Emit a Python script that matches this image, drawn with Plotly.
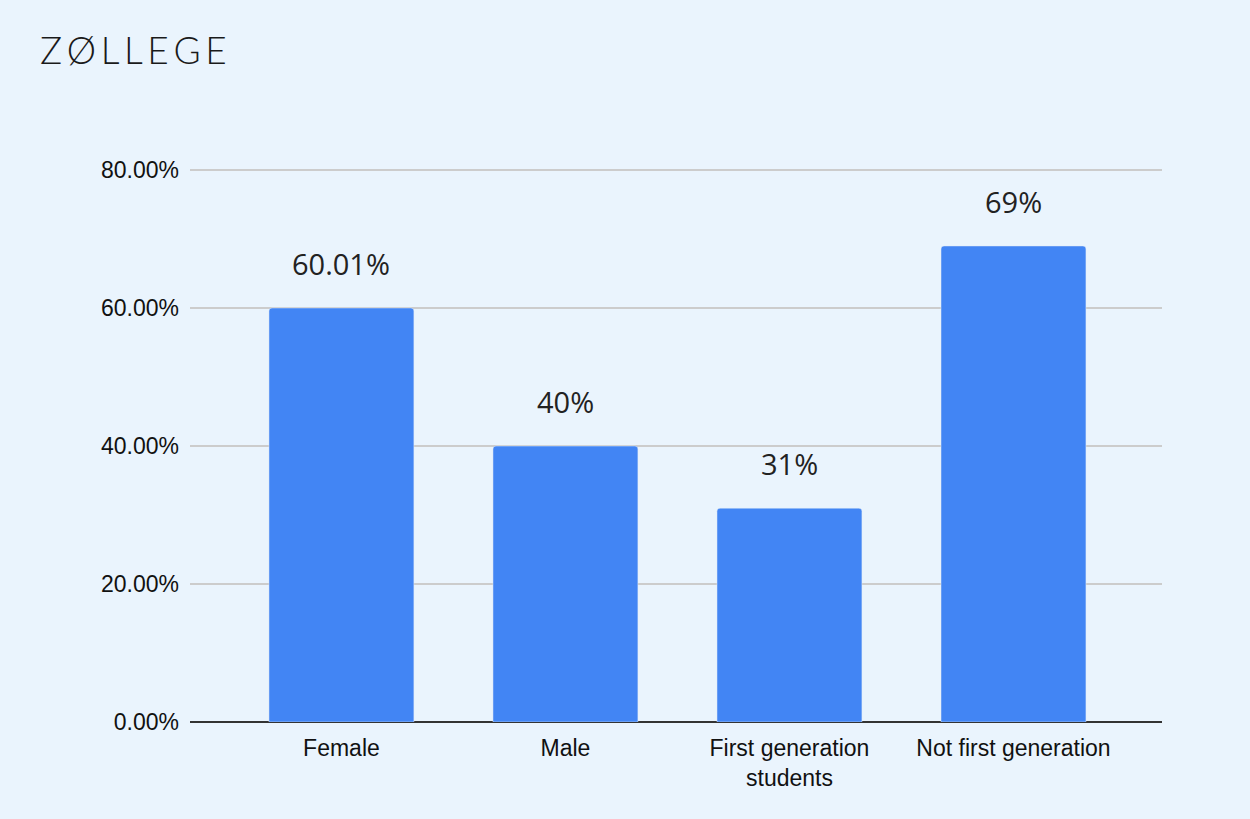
import plotly.graph_objects as go

categories = ["Female", "Male", "First generation<br>students", "Not first generation"]
values = [60.01, 40, 31, 69]
value_labels = ["60.01%", "40%", "31%", "69%"]
y_ticks = [0, 20, 40, 60, 80]
y_tick_labels = ["0.00%", "20.00%", "40.00%", "60.00%", "80.00%"]

BG = "#EAF4FD"
BLUE = "#4285F4"

xs = list(range(len(categories)))

fig = go.Figure()
fig.add_trace(go.Bar(
    x=xs, y=values, marker_color=BLUE, width=0.647,
    hoverinfo="skip",
))

for x, v, t in zip(xs, values, value_labels):
    fig.add_annotation(x=x, y=v, text=t, showarrow=False, yanchor="bottom",
                       yshift=23, font=dict(family="Open Sans", size=29, color="#222222"))

logo = "\u2009".join("ZØLLEGE")
fig.add_annotation(xref="paper", yref="paper", x=-152/972, y=1 + 118/552,
                   xanchor="left", yanchor="middle", text=logo, showarrow=False,
                   font=dict(family="Lato", size=37, color="#1a1a1a", weight=300))

fig.update_layout(
    width=1250, height=819,
    paper_bgcolor=BG, plot_bgcolor=BG,
    margin=dict(l=190, r=88, t=168, b=97),
    showlegend=False,
    barcornerradius=3,
    font=dict(family="Liberation Sans", size=23, color="#111111"),
)
fig.update_xaxes(
    tickmode="array", tickvals=xs, ticktext=categories,
    range=[-0.676, 3.663], showgrid=False, zeroline=False,
    showline=False, ticks="", ticklabelstandoff=10,
    tickfont=dict(family="Liberation Sans", size=23, color="#111111"),
)
fig.update_yaxes(
    tickmode="array", tickvals=y_ticks, ticktext=y_tick_labels,
    range=[0, 80.3], showgrid=True, gridcolor="#CCCCCC", gridwidth=1.5,
    zeroline=True, zerolinecolor="#333333", zerolinewidth=2,
    showline=False, ticks="", ticklabelstandoff=10,
    tickfont=dict(family="Liberation Sans", size=23, color="#111111"),
)

fig.write_html("out.html")
